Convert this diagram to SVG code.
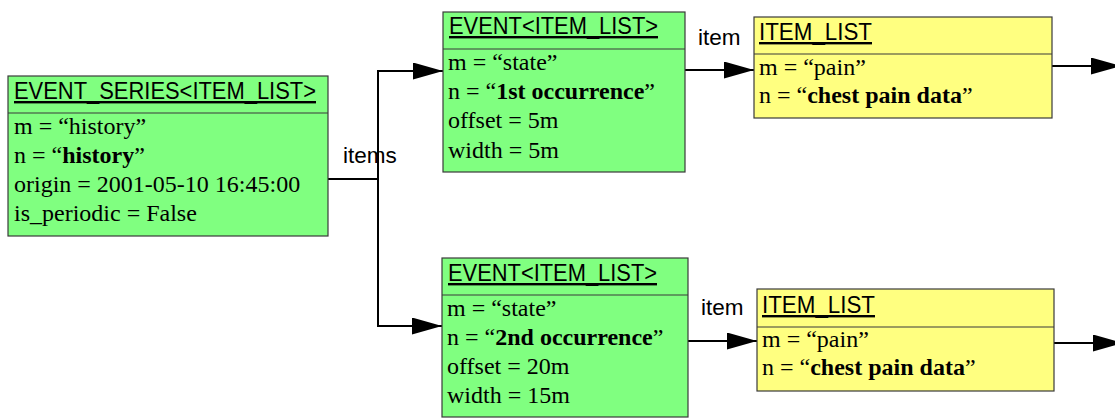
<svg xmlns="http://www.w3.org/2000/svg" width="1115" height="418" viewBox="0 0 1115 418">
<style>
.box{stroke:#3a3a3a;stroke-width:1.2}
.g{fill:#80ff80}
.y{fill:#ffff80}
.div{stroke:#3a3a3a;stroke-width:1.2}
.t{font-family:"Liberation Sans",Arial,sans-serif;font-size:24px;text-decoration:underline;fill:#000}
.b{font-family:"Liberation Serif","Times New Roman",serif;font-size:24px;fill:#000}
.bb{font-weight:bold}
.lbl{font-family:"Liberation Sans",Arial,sans-serif;font-size:22.5px;fill:#000}
.c{fill:none;stroke:#000;stroke-width:2}
</style>
<defs>
<marker id="ah" markerUnits="userSpaceOnUse" markerWidth="30" markerHeight="17" refX="30" refY="8.5" orient="auto">
<path d="M0,0 L30,8.5 L0,17 z" fill="#000"/>
</marker>
</defs>
<rect width="1115" height="418" fill="#fff"/>
<g id="connectors">
<path class="c" d="M328,179 H378 V71 H443" marker-end="url(#ah)"/>
<path class="c" d="M378,179 V326 H442" marker-end="url(#ah)"/>
<path class="c" d="M685,70 H754" marker-end="url(#ah)"/>
<path class="c" d="M688,341 H757" marker-end="url(#ah)"/>
<path class="c" d="M1052,66 H1121" marker-end="url(#ah)"/>
<path class="c" d="M1054,343 H1123" marker-end="url(#ah)"/>
<text class="lbl" x="343" y="163">items</text>
<text class="lbl" x="698" y="45">item</text>
<text class="lbl" x="701" y="315">item</text>
</g>
<g id="event_series">
<rect class="box g" x="8" y="76" width="320" height="160"/>
<line class="div" x1="8" y1="113" x2="328" y2="113"/>
<text class="t" x="14" y="99" textLength="302" lengthAdjust="spacingAndGlyphs">EVENT_SERIES&lt;ITEM_LIST&gt;</text>
<text class="b" x="14" y="134">m = “history”</text>
<text class="b" x="14" y="163">n = “<tspan class="bb">history</tspan>”</text>
<text class="b" x="14" y="192">origin = 2001-05-10 16:45:00</text>
<text class="b" x="14" y="221">is_periodic = False</text>
</g>
<g id="event1">
<rect class="box g" x="443" y="12" width="242" height="160"/>
<line class="div" x1="443" y1="49" x2="685" y2="49"/>
<text class="t" x="449" y="34" textLength="209" lengthAdjust="spacingAndGlyphs">EVENT&lt;ITEM_LIST&gt;</text>
<text class="b" x="448" y="70">m = “state”</text>
<text class="b" x="448" y="99">n = “<tspan class="bb">1st occurrence</tspan>”</text>
<text class="b" x="448" y="128">offset = 5m</text>
<text class="b" x="448" y="158">width = 5m</text>
</g>
<g id="event2">
<rect class="box g" x="442" y="258" width="246" height="159"/>
<line class="div" x1="442" y1="295" x2="688" y2="295"/>
<text class="t" x="448" y="281" textLength="209" lengthAdjust="spacingAndGlyphs">EVENT&lt;ITEM_LIST&gt;</text>
<text class="b" x="447" y="316">m = “state”</text>
<text class="b" x="447" y="345">n = “<tspan class="bb">2nd occurrence</tspan>”</text>
<text class="b" x="447" y="374">offset = 20m</text>
<text class="b" x="447" y="403">width = 15m</text>
</g>
<g id="item_list1">
<rect class="box y" x="754" y="17" width="298" height="101"/>
<line class="div" x1="754" y1="54" x2="1052" y2="54"/>
<text class="t" x="759" y="40" textLength="113" lengthAdjust="spacingAndGlyphs">ITEM_LIST</text>
<text class="b" x="759" y="75">m = “pain”</text>
<text class="b" x="759" y="103">n = “<tspan class="bb">chest pain data</tspan>”</text>
</g>
<g id="item_list2">
<rect class="box y" x="757" y="289" width="297" height="102"/>
<line class="div" x1="757" y1="327" x2="1054" y2="327"/>
<text class="t" x="762" y="313" textLength="113" lengthAdjust="spacingAndGlyphs">ITEM_LIST</text>
<text class="b" x="762" y="347">m = “pain”</text>
<text class="b" x="762" y="375">n = “<tspan class="bb">chest pain data</tspan>”</text>
</g>
</svg>
